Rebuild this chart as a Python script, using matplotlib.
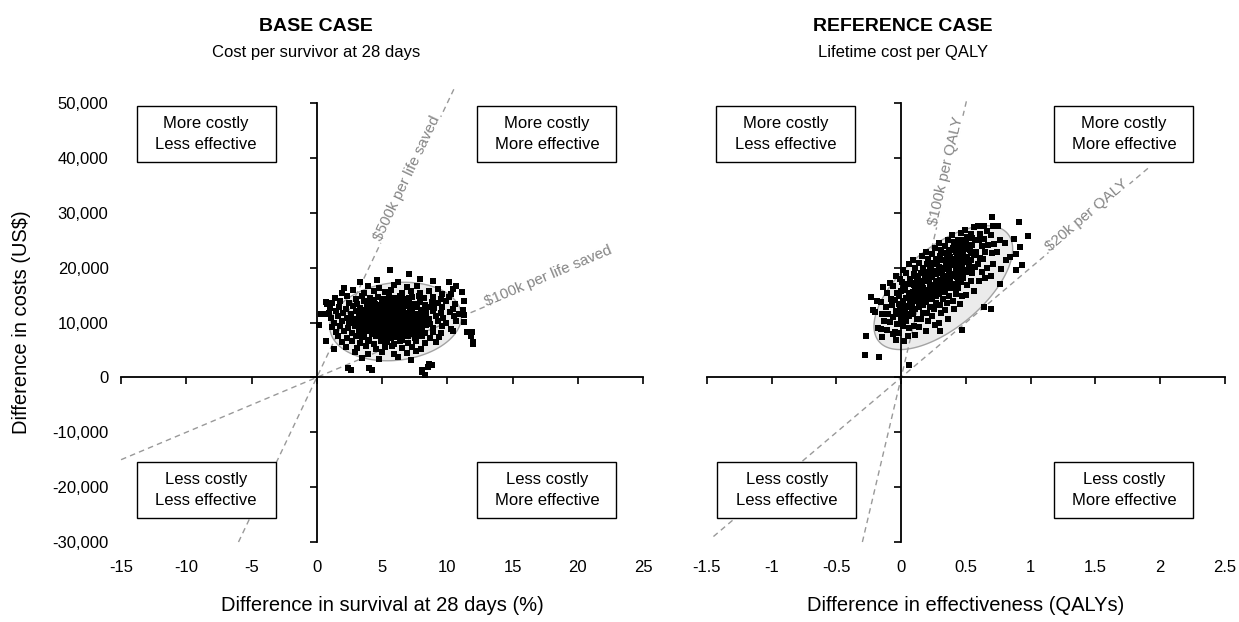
# cost-effectiveness planes: base case vs reference case

import numpy as np
import matplotlib
matplotlib.use('Agg')
import matplotlib.pyplot as plt
from matplotlib.patches import Rectangle

plt.rcParams['font.family'] = ['Liberation Sans', 'DejaVu Sans']

# ---- data -------------------------------------------------------------
cost_ticks  = [-30000, -20000, -10000, 0, 10000, 20000, 30000, 40000, 50000]
cost_labels = ['-30,000', '-20,000', '-10,000', '0', '10,000', '20,000', '30,000', '40,000', '50,000']

base_xticks  = [-15, -10, -5, 0, 5, 10, 15, 20, 25]
base_xlabels = ['-15', '-10', '-5', '0', '5', '10', '15', '20', '25']
ref_xticks   = [-1.5, -1, -0.5, 0, 0.5, 1, 1.5, 2, 2.5]
ref_xlabels  = ['-1.5', '-1', '-0.5', '0', '0.5', '1', '1.5', '2', '2.5']

# bootstrap replicates (survival difference %, cost difference $)
base_points = [
    # outliers
    (5.6, 19600), (7.1, 18900), (7.9, 17900), (0.8, 13400), (0.6, 11500), (0.2, 9600),
    (0.7, 6600), (1.3, 5200), (2.4, 1800), (4.0, 1800), (8.1, 1000), (8.6, 2500),
    (12.0, 6100), (11.9, 8200), (11.3, 10100), (11.3, 11300), (10.7, 16700), (10.3, 15200),
    (10.1, 17300), (11.3, 14000), (2.6, 1400), (4.2, 1400), (8.3, 400), (8.8, 2200),
    (0.7, 13700), (0.3, 11600), (10.4, 16100), (11.1, 15500), (11.5, 8200), (12.0, 6400),
    (11.2, 12200), (11.8, 7600), (8.5, 1900), (8.1, 1300),
    # cloud
    (3.3, 17400), (4.6, 17800), (6.2, 17300), (8.9, 17600),
    (2.1, 16300), (3.9, 16700), (4.8, 16200), (5.9, 16800), (6.9, 16400), (7.7, 16600), (9.3, 16100),
    (1.9, 15400), (2.8, 15900), (3.6, 15300), (4.4, 15700), (5.2, 15500), (5.7, 16000),
    (6.5, 15300), (7.2, 15800), (7.9, 15400), (8.6, 15700), (9.6, 15200),
    (1.4, 14500), (2.3, 14800), (3.0, 14300), (3.5, 14900), (4.1, 14400), (4.7, 14700),
    (5.0, 14200), (5.5, 14800), (6.0, 14500), (6.4, 14900), (6.8, 14300), (7.3, 14600),
    (7.8, 14900), (8.2, 14400), (8.9, 14700), (9.5, 14300), (10.1, 14600),
    (1.2, 13500), (1.8, 13900), (2.5, 13600), (3.1, 13300), (3.6, 13900), (4.0, 13500),
    (4.4, 13800), (4.8, 13200), (5.2, 13700), (5.6, 14000), (5.9, 13400), (6.3, 13800),
    (6.7, 13500), (7.0, 14000), (7.4, 13300), (7.9, 13700), (8.3, 13200), (8.8, 13800),
    (9.3, 13500), (9.9, 13900), (10.6, 13400),
    (1.0, 12600), (1.7, 12900), (2.2, 12400), (2.8, 13000), (3.3, 12700), (3.7, 12300),
    (4.1, 12900), (4.5, 12600), (4.9, 13000), (5.3, 12400), (5.6, 12800), (6.0, 12300),
    (6.3, 12900), (6.6, 12600), (7.0, 13000), (7.3, 12400), (7.7, 12800), (8.1, 12300),
    (8.5, 12900), (9.0, 12600), (9.6, 12800), (10.4, 12500),
    (0.9, 11700), (1.5, 12100), (2.0, 11800), (2.6, 11500), (3.0, 12100), (3.4, 11800),
    (3.8, 11400), (4.2, 12000), (4.5, 11700), (4.8, 12200), (5.1, 11500), (5.4, 11900),
    (5.7, 12200), (6.0, 11700), (6.3, 11400), (6.6, 12000), (6.9, 11800), (7.2, 12200),
    (7.6, 11500), (8.0, 11900), (8.4, 11400), (8.9, 12100), (9.5, 11700), (10.2, 12000), (10.9, 11600),
    (1.1, 10800), (1.6, 11200), (2.3, 10900), (2.8, 10600), (3.2, 11200), (3.6, 10900),
    (4.0, 10500), (4.3, 11100), (4.6, 10800), (4.9, 11300), (5.2, 10600), (5.5, 11000),
    (5.8, 11300), (6.1, 10800), (6.4, 10500), (6.7, 11100), (7.0, 10900), (7.3, 11300),
    (7.7, 10700), (8.1, 11000), (8.6, 10600), (9.1, 11200), (9.7, 10800), (10.5, 11100),
    (1.3, 10000), (1.9, 10300), (2.5, 9900), (2.9, 10400), (3.3, 10100), (3.7, 9700),
    (4.1, 10300), (4.4, 10000), (4.7, 9600), (5.0, 10200), (5.3, 10500), (5.6, 9900),
    (5.9, 10200), (6.2, 9700), (6.5, 10400), (6.8, 10000), (7.1, 9600), (7.4, 10300),
    (7.8, 9900), (8.2, 10200), (8.7, 9800), (9.3, 10300), (9.9, 9900), (10.7, 10200),
    (1.2, 9100), (1.8, 9400), (2.4, 9000), (2.9, 9300), (3.4, 8800), (3.8, 9400),
    (4.2, 9100), (4.6, 8700), (4.9, 9300), (5.2, 9000), (5.5, 9500), (5.8, 9100),
    (6.1, 8700), (6.4, 9300), (6.8, 9000), (7.1, 9400), (7.5, 8800), (7.9, 9200),
    (8.4, 9500), (8.9, 9000), (9.6, 9300), (10.3, 8900),
    (1.5, 8200), (2.1, 8500), (2.7, 8100), (3.2, 8400), (3.6, 7900), (4.0, 8500),
    (4.4, 8200), (4.8, 7800), (5.1, 8400), (5.5, 8100), (5.8, 8600), (6.2, 8200),
    (6.6, 7800), (7.0, 8400), (7.4, 8100), (7.8, 8500), (8.3, 8000), (8.9, 8300),
    (9.5, 8100), (10.4, 8400),
    (1.6, 7500), (2.3, 7200), (3.0, 7600), (3.5, 7300), (4.0, 6900), (4.5, 7500),
    (4.9, 7200), (5.3, 7600), (5.7, 7100), (6.1, 7400), (6.5, 6900), (7.0, 7500),
    (7.5, 7200), (8.1, 7600), (8.7, 7100), (9.4, 7400),
    (1.9, 6400), (2.7, 6700), (3.3, 6200), (3.9, 6600), (4.4, 6100), (4.9, 6700),
    (5.4, 6400), (5.9, 6000), (6.4, 6600), (7.0, 6300), (7.6, 6700), (8.3, 6200), (9.1, 6500),
    (2.2, 5600), (3.1, 5300), (3.8, 5700), (4.5, 5100), (5.2, 5500), (5.8, 5800),
    (6.5, 5300), (7.3, 5600), (8.0, 5100),
    (2.9, 4600), (3.9, 4300), (5.0, 4700), (5.9, 4200), (6.9, 4500), (7.6, 4800),
    (3.5, 3600), (4.8, 3300), (6.2, 3700), (7.2, 3200),
    # dense core
    (3.45, 12250), (3.95, 11650), (4.35, 12450), (4.65, 11250), (5.05, 12650), (5.45, 11550),
    (5.75, 12350), (6.15, 11150), (6.45, 12150), (6.85, 11450), (7.15, 12550), (7.55, 11250),
    (7.95, 12050), (8.35, 11650),
    (3.15, 10550), (3.55, 10250), (3.85, 11050), (4.25, 10650), (4.55, 10350), (4.95, 10850),
    (5.35, 10150), (5.65, 10650), (6.05, 10350), (6.35, 10950), (6.65, 10250), (6.95, 10550),
    (7.25, 10050), (7.65, 10450), (8.05, 10650), (8.45, 10150),
    (3.05, 9650), (3.45, 9450), (3.95, 9850), (4.35, 9550), (4.75, 9950), (5.15, 9650),
    (5.45, 9350), (5.85, 9750), (6.25, 9450), (6.55, 9850), (6.95, 9550), (7.35, 9750),
    (7.75, 9450), (8.15, 9750),
    (3.35, 8650), (3.75, 8850), (4.15, 8450), (4.55, 8950), (4.95, 8650), (5.35, 8850),
    (5.65, 8450), (6.05, 8950), (6.45, 8550), (6.85, 8750), (7.25, 8550), (7.65, 8850), (8.05, 8650),
    (3.65, 7750), (4.25, 7950), (4.75, 7650), (5.25, 7950), (5.75, 7650), (6.25, 7850),
    (6.75, 7550), (7.25, 7850), (7.85, 7750),
    (3.85, 13150), (4.45, 13350), (5.05, 13050), (5.55, 13450), (6.15, 13150), (6.55, 13350),
    (7.15, 13150), (7.65, 13450),
    (4.25, 14050), (5.35, 14350), (6.35, 14150), (7.05, 14450),
]

# (QALY difference, cost difference $)
ref_points = [
    (-0.27, 7600), (-0.28, 4000), (-0.23, 14600),
    (-0.19, 14000), (-0.22, 12200), (-0.20, 11900), (-0.18, 9000), (-0.175, 3800),
    (-0.14, 16500), (-0.16, 13800), (-0.15, 11500), (-0.13, 10300), (-0.16, 8800), (-0.15, 7300),
    (-0.09, 17200), (-0.11, 15400), (-0.08, 14200), (-0.12, 12800), (-0.10, 11600),
    (-0.09, 10100), (-0.11, 8700), (-0.06, 7900),
    (-0.04, 18400), (-0.06, 16600), (-0.03, 15300), (-0.05, 14100), (-0.07, 13200),
    (-0.04, 12100), (-0.06, 11000), (-0.03, 9800), (-0.05, 8300), (-0.04, 6900),
    (0.01, 19500), (-0.01, 17900), (0.02, 16800), (0.00, 15700), (-0.02, 14800),
    (0.01, 13900), (0.03, 13000), (-0.01, 12200), (0.02, 11300), (0.00, 10400),
    (0.01, 9300), (-0.02, 8100), (0.02, 6700),
    (0.06, 20600), (0.04, 19000), (0.07, 17900), (0.05, 17000), (0.03, 16100),
    (0.06, 15300), (0.04, 14500), (0.07, 13700), (0.05, 12900), (0.03, 12100),
    (0.06, 11200), (0.04, 10200), (0.06, 9000), (0.05, 7600),
    (0.09, 21300), (0.11, 20000), (0.10, 18900), (0.12, 18000), (0.08, 17200),
    (0.11, 16400), (0.09, 15600), (0.12, 14900), (0.10, 14100), (0.08, 13300),
    (0.11, 12500), (0.09, 11600), (0.12, 10600), (0.10, 9300), (0.11, 7800),
    (0.16, 22200), (0.14, 20900), (0.17, 19900), (0.15, 19000), (0.13, 18200),
    (0.16, 17400), (0.14, 16700), (0.17, 15900), (0.15, 15200), (0.13, 14400),
    (0.16, 13600), (0.14, 12800), (0.17, 11800), (0.15, 10700), (0.14, 9100),
    (0.19, 22800), (0.21, 21600), (0.20, 20600), (0.22, 19800), (0.18, 19000),
    (0.21, 18200), (0.19, 17500), (0.22, 16700), (0.20, 16000), (0.18, 15300),
    (0.21, 14500), (0.19, 13700), (0.22, 12800), (0.20, 11700), (0.21, 10300), (0.19, 8400),
    (0.26, 23600), (0.24, 22400), (0.27, 21400), (0.25, 20600), (0.23, 19800),
    (0.26, 19100), (0.24, 18300), (0.27, 17600), (0.25, 16900), (0.23, 16100),
    (0.26, 15300), (0.24, 14500), (0.27, 13600), (0.25, 12500), (0.24, 11200), (0.26, 9500),
    (0.29, 24400), (0.31, 23200), (0.30, 22200), (0.32, 21400), (0.28, 20600),
    (0.31, 19900), (0.29, 19100), (0.32, 18400), (0.30, 17700), (0.28, 16900),
    (0.31, 16100), (0.29, 15200), (0.32, 14300), (0.30, 13200), (0.31, 11800),
    (0.29, 10000), (0.30, 8500),
    (0.36, 25100), (0.34, 23900), (0.37, 22900), (0.35, 22100), (0.33, 21300),
    (0.36, 20600), (0.34, 19800), (0.37, 19100), (0.35, 18300), (0.33, 17500),
    (0.36, 16700), (0.34, 15800), (0.37, 14800), (0.35, 13600), (0.34, 12200), (0.36, 10600),
    (0.39, 25900), (0.41, 24600), (0.40, 23600), (0.42, 22800), (0.38, 22000),
    (0.41, 21200), (0.39, 20400), (0.42, 19600), (0.40, 18800), (0.38, 18000),
    (0.41, 17100), (0.39, 16200), (0.42, 15200), (0.40, 14000), (0.41, 12500),
    (0.46, 26300), (0.44, 25100), (0.47, 24100), (0.45, 23300), (0.43, 22500),
    (0.46, 21700), (0.44, 20900), (0.47, 20100), (0.45, 19200), (0.43, 18300),
    (0.46, 17300), (0.44, 16200), (0.47, 14900), (0.45, 13300),
    (0.49, 26900), (0.51, 25600), (0.50, 24600), (0.52, 23700), (0.48, 22800),
    (0.51, 22000), (0.49, 21100), (0.52, 20200), (0.50, 19200), (0.48, 18100),
    (0.51, 16800), (0.50, 15100),
    (0.56, 27400), (0.54, 26100), (0.57, 25000), (0.55, 24100), (0.53, 23200),
    (0.56, 22300), (0.54, 21300), (0.57, 20200), (0.55, 19000), (0.54, 17500), (0.56, 15700),
    (0.59, 27600), (0.61, 26200), (0.60, 25000), (0.62, 23900), (0.58, 22900),
    (0.61, 21800), (0.59, 20600), (0.62, 19200), (0.60, 17600), (0.64, 12800),
    (0.70, 29300), (0.64, 27600), (0.66, 26600), (0.64, 25200), (0.67, 24100),
    (0.65, 22800), (0.63, 21500), (0.66, 20000), (0.65, 18200), (0.69, 12500),
    (0.71, 27500), (0.69, 25900), (0.72, 24300), (0.70, 22600), (0.71, 20700), (0.69, 18500),
    (0.75, 27500), (0.76, 25000), (0.74, 22800), (0.77, 19800), (0.76, 17100),
    (0.80, 24400), (0.81, 21300),
    (0.87, 25300), (0.84, 22000), (0.89, 19500),
    (0.91, 28400), (0.92, 23700), (0.89, 22400), (0.93, 20400),
    (0.98, 25800), (0.06, 2250), (0.47, 8550), (-0.06, 7950),
    # dense core
    (0.075, 13500), (0.085, 15200), (0.095, 16800), (0.065, 14300), (0.08, 12300),
    (0.125, 13900), (0.135, 15500), (0.125, 17100), (0.145, 14700), (0.135, 16300), (0.115, 18400),
    (0.175, 14200), (0.185, 15800), (0.175, 17500), (0.165, 16200), (0.195, 19200),
    (0.185, 18600), (0.165, 13200),
    (0.225, 15100), (0.235, 16500), (0.215, 17800), (0.245, 19300), (0.235, 20800),
    (0.225, 14200), (0.215, 18900),
    (0.275, 15900), (0.285, 17300), (0.265, 18800), (0.295, 20200), (0.275, 21600),
    (0.285, 16600), (0.265, 14900),
    (0.325, 16600), (0.335, 18100), (0.315, 19500), (0.345, 20900), (0.325, 22600),
    (0.315, 17400), (0.335, 15500),
    (0.375, 17300), (0.385, 18700), (0.365, 20100), (0.395, 21500), (0.375, 23200), (0.385, 16300),
    (0.425, 18400), (0.435, 19800), (0.415, 21400), (0.445, 22700), (0.425, 24000), (0.435, 17200),
    (0.475, 19500), (0.485, 21000), (0.465, 22300), (0.495, 23400), (0.475, 25000),
    (0.525, 21100), (0.535, 22600), (0.515, 24100), (0.545, 25400),
    (0.025, 12800), (0.035, 14400), (0.015, 16000), (0.045, 11600), (-0.015, 13400),
    (-0.025, 11500), (0.005, 17300),
]

# 95% confidence ellipses: centre and two conjugate half-axes (data units)
base_ellipse = ((6.04, 10180), (5.04, 1200), (-0.2, 7050))
ref_ellipse  = ((0.325, 16360), (0.497, 9820), (0.199, -5570))

# willingness-to-pay lines: slope ($ per unit effect), x-range, label, label anchor x
base_wtp = [
    (1000, (-15, 12.9), r'\$100k per life saved', 13.0, 'left'),
    (5000, (-6, 10.5), r'\$500k per life saved', 7.2, 'center'),
]
ref_wtp = [
    (20000, (-1.45, 1.92), r'\$20k per QALY', 1.45, 'center'),
    (100000, (-0.3, 0.51), r'\$100k per QALY', 0.375, 'center'),
]

quadrant_text = ['More costly\nLess effective', 'More costly\nMore effective',
                 'Less costly\nLess effective', 'Less costly\nMore effective']
# box centres in axes fraction
base_quad_pos = [(0.163, 0.929), (0.816, 0.929), (0.163, 0.1185), (0.816, 0.1185)]
ref_quad_pos  = [(0.1525, 0.929), (0.805, 0.929), (0.154, 0.1185), (0.805, 0.1185)]


# ---- drawing ----------------------------------------------------------
fig = plt.figure(figsize=(12.39, 6.22), dpi=100)
ax1 = fig.add_axes([0.0977, 0.1286, 0.4213, 0.7058])
ax2 = fig.add_axes([0.5706, 0.1286, 0.4181, 0.7058])


def style_axes(ax, xlim, xticks, xlabels, show_ylabels):
    ax.set_xlim(*xlim)
    ax.set_ylim(-30000, 50000)
    ax.spines[['top', 'right']].set_visible(False)
    ax.spines['left'].set_position(('data', 0))
    ax.spines['bottom'].set_position(('data', 0))
    ax.spines['left'].set_linewidth(1.3)
    ax.spines['bottom'].set_linewidth(1.3)
    ax.set_xticks(xticks)
    ax.set_yticks(cost_ticks)
    ax.tick_params(direction='out', length=5, width=1.2, labelbottom=False, labelleft=False)
    sx = ax.secondary_xaxis('bottom')
    sx.set_xticks(xticks, labels=xlabels)
    sx.tick_params(length=0, pad=13, labelsize=12)
    sx.spines['bottom'].set_visible(False)
    if show_ylabels:
        sy = ax.secondary_yaxis('left')
        sy.set_yticks(cost_ticks, labels=cost_labels)
        sy.tick_params(length=0, pad=9, labelsize=12)
        sy.spines['left'].set_visible(False)


def draw_ellipse(ax, ell):
    (cx, cy), u, v = ell
    t = np.linspace(0, 2 * np.pi, 200)
    ex = cx + u[0] * np.cos(t) + v[0] * np.sin(t)
    ey = cy + u[1] * np.cos(t) + v[1] * np.sin(t)
    ax.fill(ex, ey, facecolor='#ebebeb', edgecolor='#a3a3a3', lw=1.0, zorder=1)


def draw_wtp(ax, wtp):
    for slope, (x0, x1), label, lx, ha in wtp:
        xs = np.array([x0, x1])
        ax.plot(xs, slope * xs, ls=(0, (4, 3)), color='#999999', lw=1.0, zorder=2, clip_on=False)
        p0 = ax.transData.transform((0, 0))
        p1 = ax.transData.transform((1, slope))
        ang = np.degrees(np.arctan2(p1[1] - p0[1], p1[0] - p0[0]))
        ax.text(lx, slope * lx, label, rotation=ang, rotation_mode='anchor',
                ha=ha, va='baseline', fontsize=11, color='#858585', zorder=4,
                bbox=dict(boxstyle='square,pad=0.1', fc='white', ec='none'))


def draw_quadrants(ax, positions, w, h):
    for txt, (fx, fy) in zip(quadrant_text, positions):
        ax.add_patch(Rectangle((fx - w / 2, fy - h / 2), w, h, transform=ax.transAxes,
                               fc='white', ec='black', lw=1.0, zorder=5))
        ax.text(fx, fy, txt, transform=ax.transAxes, ha='center', va='center',
                fontsize=12, linespacing=1.45, zorder=6)


for ax, pts, ell, wtp, xlim, xt, xl, ylab, quad in [
        (ax1, base_points, base_ellipse, base_wtp, (-15, 25), base_xticks, base_xlabels, True, base_quad_pos),
        (ax2, ref_points, ref_ellipse, ref_wtp, (-1.5, 2.5), ref_xticks, ref_xlabels, False, ref_quad_pos)]:
    style_axes(ax, xlim, xt, xl, ylab)
    draw_ellipse(ax, ell)
    draw_wtp(ax, wtp)
    px, py = zip(*pts)
    ax.scatter(px, py, s=13, marker='s', c='black', linewidths=0, zorder=3)
    bbox = ax.get_position()
    draw_quadrants(ax, quad, 139 / (bbox.width * 1239), 56 / (bbox.height * 622))

# titles sit over the y axis of each plane
fig.text(316 / 1239, 0.958, 'BASE CASE', ha='center', va='center', fontsize=14, fontweight='bold')
fig.text(316 / 1239, 0.916, 'Cost per survivor at 28 days', ha='center', va='center', fontsize=12)
fig.text(903 / 1239, 0.958, 'REFERENCE CASE', ha='center', va='center', fontsize=14, fontweight='bold')
fig.text(903 / 1239, 0.916, 'Lifetime cost per QALY', ha='center', va='center', fontsize=12)

fig.text(382 / 1239, 0.027, 'Difference in survival at 28 days (%)', ha='center', va='center', fontsize=14.5)
fig.text(966 / 1239, 0.027, 'Difference in effectiveness (QALYs)', ha='center', va='center', fontsize=14.5)
fig.text(0.017, 0.482, r'Difference in costs (US\$)', rotation=90, ha='center', va='center', fontsize=14.5)

fig.savefig('out.png', dpi=100)
